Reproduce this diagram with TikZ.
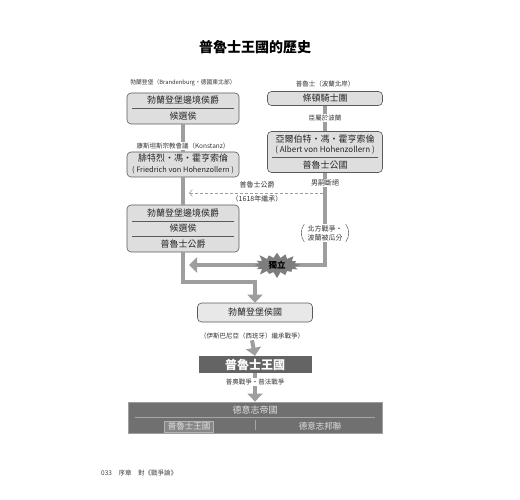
\documentclass[tikz,border=0pt]{standalone}
\usepackage{fontspec}
\setmainfont{Noto Sans CJK TC}
\usetikzlibrary{arrows.meta, positioning, calc, shapes.symbols}
\definecolor{BoxGray}{RGB}{222,222,222}
\definecolor{LightBox}{RGB}{232,232,232}
\definecolor{EdgeGray}{RGB}{90,90,90}
\definecolor{LinkGray}{RGB}{158,158,158}
\definecolor{KingGray}{RGB}{100,100,100}
\definecolor{ReichGray}{RGB}{112,112,112}
\definecolor{StarGray}{RGB}{125,125,125}
\tikzset{
    boxnode/.style={rectangle, draw=EdgeGray, fill=BoxGray, rounded corners=4pt, line width=0.6pt, minimum width=112pt, inner sep=0pt},
    rowtext/.style={inner sep=0pt, text=black!85, font=\fontsize{9}{10}\selectfont},
    subtext/.style={rowtext, font=\fontsize{7.4}{9}\selectfont},
    sepline/.style={draw=EdgeGray, line width=0.5pt},
    note/.style={inner sep=1pt, text=black!80, font=\fontsize{6.5}{8}\selectfont},
    linkline/.style={draw=LinkGray, line width=4pt},
    bigarrow/.style={linkline, -{Triangle[length=8pt,width=15pt]}},
    hintarrow/.style={draw=LinkGray, line width=0.6pt, dash pattern=on 3pt off 2pt, -{Straight Barb[length=3pt,width=7pt]}}
}
\begin{document}
\begin{tikzpicture}[x=1pt, y=-1pt]
\useasboundingbox (0,0) rectangle (520,500);

\node[font=\fontsize{14}{16}\selectfont\bfseries] (title) at (255,47) {普魯士王國的歷史};

% left column
\node[note, font=\fontsize{5.8}{7}\selectfont] (brand) at (183,83) {勃蘭登堡（Brandenburg・德國東北部）};
\node[boxnode, minimum height=31pt] (mark) at (183,108.5) {};
\node[rowtext] (markA) at (183,100) {勃蘭登堡邊境侯爵};
\node[rowtext] (markB) at (183,116.5) {候選侯};
\draw[sepline] ($(mark.west)+(5,0)$) -- ($(mark.east)+(-5,0)$);

\node[note] (konst) at (183,146) {康斯坦斯宗教會議（Konstanz）};

\node[boxnode, minimum height=25pt] (fried) at (183,164.5) {};
\node[rowtext] (friedA) at (183,158.5) {腓特烈・馮・霍亨索倫};
\node[subtext] (friedB) at (183,170) {( Friedrich von Hohenzollern )};

\node[boxnode, minimum height=47pt] (duchy) at (183,228.5) {};
\node[rowtext] (duchyA) at (183,213) {勃蘭登堡邊境侯爵};
\node[rowtext] (duchyB) at (183,228.5) {候選侯};
\node[rowtext] (duchyC) at (183,244) {普魯士公爵};
\draw[sepline] ($(duchy.west)+(5,-7.5)$) -- ($(duchy.east)+(-5,-7.5)$);
\draw[sepline] ($(duchy.west)+(5,7.5)$) -- ($(duchy.east)+(-5,7.5)$);

% right column
\node[note] (prus) at (325,84) {普魯士（波蘭北岸）};
\node[boxnode, minimum width=115pt, minimum height=14pt] (order) at (325,98.5) {};
\node[rowtext] (orderA) at (325,98.5) {條頓騎士團};
\node[note] (vassal) at (325,118) {臣屬於波蘭};

\node[boxnode, minimum width=115pt, minimum height=41pt] (albert) at (325,152) {};
\node[rowtext] (albertA) at (325,139) {亞爾伯特・馮・霍亨索倫};
\node[subtext, font=\fontsize{8}{9}\selectfont] (albertB) at (325,150) {( Albert von Hohenzollern )};
\node[rowtext] (albertC) at (325,165) {普魯士公國};
\draw[sepline] ($(albert.west)+(5,5.5)$) -- ($(albert.east)+(-5,5.5)$);

\node[note, font=\fontsize{7}{8}\selectfont] (extinct) at (325,183) {男嗣斷絕};
\node[note, font=\fontsize{7}{9}\selectfont, align=center] (nwar) at (325,233) {北方戰爭・\\波蘭被瓜分};
\draw[EdgeGray, line width=0.5pt] ([xshift=-2pt]nwar.north west) to[bend right=35] ([xshift=-2pt]nwar.south west);
\draw[EdgeGray, line width=0.5pt] ([xshift=2pt]nwar.north east) to[bend left=35] ([xshift=2pt]nwar.south east);

% inheritance
\coordinate (heirR) at (323,193);
\coordinate (heirL) at (189,193);
\node[note, font=\fontsize{7}{8}\selectfont] (duke) at (257,185) {普魯士公爵};
\node[note, font=\fontsize{7}{8}\selectfont] (year) at (257,199) {（1618年繼承）};

% lower part
\node[boxnode, fill=LightBox, minimum width=115pt, minimum height=19pt] (elect) at (255,312.5) {};
\node[rowtext] (electA) at (255,312.5) {勃蘭登堡侯國};
\node[note] (war1) at (252,336) {（伊斯巴尼亞（西班牙）繼承戰爭）};

\node[rectangle, fill=KingGray, minimum width=113pt, minimum height=17pt, inner sep=0pt,
      text=white, font=\fontsize{12}{13}\selectfont\bfseries] (king) at (255,364.5) {普魯士王國};
\node[note] (war2) at (255,382) {普奧戰爭・普法戰爭};

\node[rectangle, draw=LinkGray, fill=ReichGray, line width=0.8pt, minimum width=254pt, minimum height=31pt] (reich) at (255,417.5) {};
\node[rowtext, text=black!12] (reichA) at (255,410) {德意志帝國};
\draw[draw=black!35, line width=0.6pt] ($(reich.west)+(7,0)$) -- ($(reich.east)+(-7,0)$);
\node[rectangle, draw=black!30, fill=black!47, line width=0.5pt, minimum width=49pt, minimum height=11pt, inner sep=0pt,
      text=black!12, font=\fontsize{8.5}{9}\selectfont] (kingdom) at (189,426.5) {普魯士王國};
\node[rowtext, font=\fontsize{8.5}{9}\selectfont, text=black!12] (bund) at (320,426.5) {德意志邦聯};
\draw[draw=black!35, line width=0.6pt] ($(reich.center)+(0,2.5)$) -- ($(reich.south)+(0,-3)$);

% connectors
\draw[linkline] (mark.south) -- (konst.north);
\draw[linkline] (konst.south) -- (fried.north);
\draw[linkline] (fried.south) -- (duchy.north);
\draw[linkline] (order.south) -- (vassal.north);
\draw[linkline] (vassal.south) -- (albert.north);
\draw[linkline] (albert.south) -- (extinct.north);
\draw[linkline] (extinct.south) -- (nwar.north);
\draw[hintarrow] (heirR) -- (heirL);
\coordinate (merge) at (189,265);
\draw[bigarrow] (nwar.south) |- (merge);
\draw[bigarrow] (duchy.south) -- ++(0,30) -| (elect.north);
\draw[bigarrow] (war1.south) -- (king.north);
\draw[linkline] (king.south) -- (war2.north);
\draw[bigarrow] (war2.south) -- (reich.north);

\node[starburst, fill=StarGray, minimum width=50pt, minimum height=20pt, inner sep=1pt,
      starburst points=16, starburst point height=7pt,
      font=\fontsize{8.5}{9}\selectfont\bfseries] (indep) at (277,265) {獨立};

\node[anchor=west, inner sep=0pt, text=black!75, font=\fontsize{6.5}{7}\selectfont] (foot) at (101,473) {033\quad 序章\quad 對《戰爭論》};
\end{tikzpicture}
\end{document}
